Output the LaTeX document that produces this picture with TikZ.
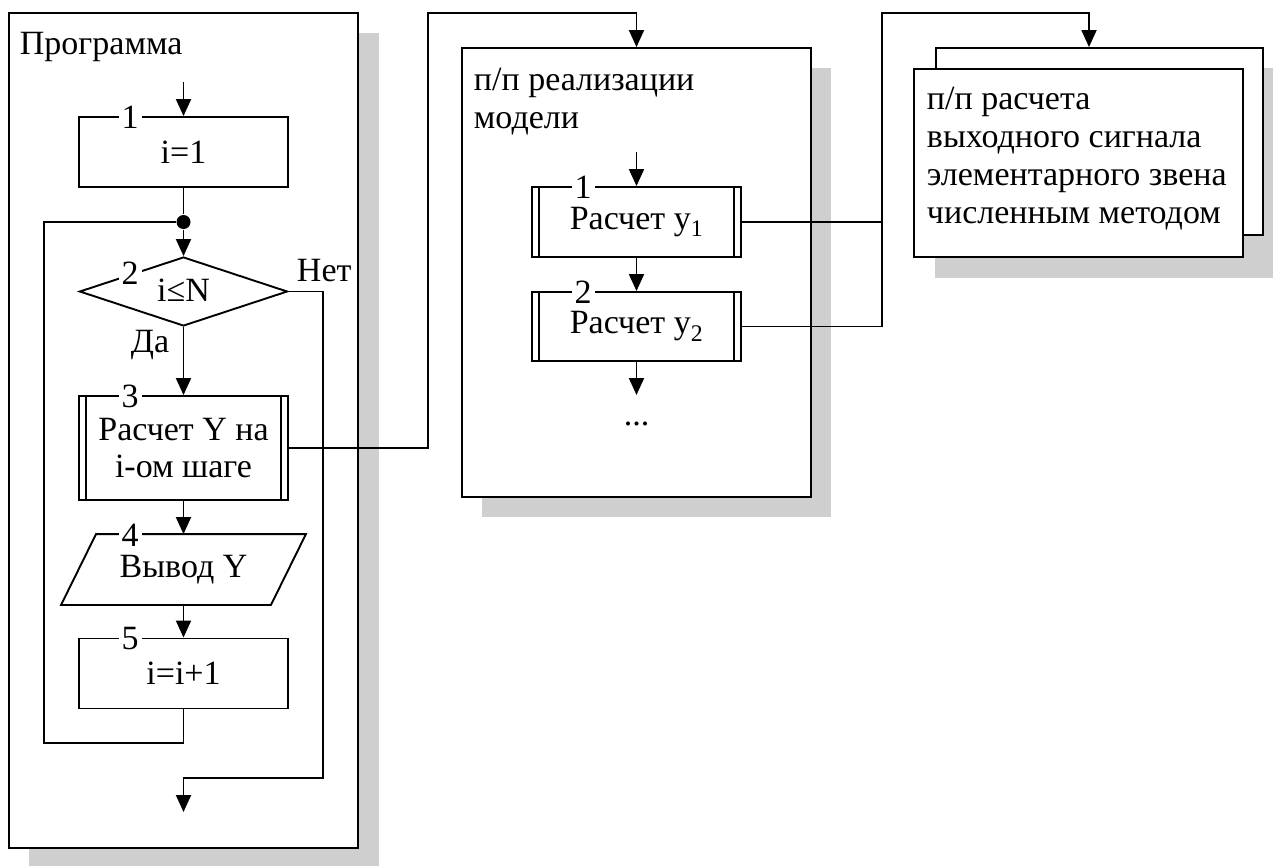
\documentclass[tikz,border=0pt]{standalone}
\usepackage{fontspec}
\setmainfont{Liberation Serif}
\usetikzlibrary{arrows.meta,calc,shapes.geometric}
\definecolor{shadowgray}{RGB}{207,207,207}
\begin{document}
\begin{tikzpicture}[x=1pt,y=-1pt,line width=1.9pt,
  font=\fontsize{34}{37.7}\selectfont,
  proc/.style={draw,fill=white,minimum width=209pt,minimum height=70pt,inner sep=0pt,align=center},
  subproc/.style={proc,path picture={
     \draw ([xshift=7pt]path picture bounding box.north west) -- ([xshift=7pt]path picture bounding box.south west);
     \draw ([xshift=-7pt]path picture bounding box.north east) -- ([xshift=-7pt]path picture bounding box.south east);}},
  cont/.style={draw,fill=white,inner sep=0pt},
  num/.style={fill=white,inner xsep=3pt,inner ysep=0pt},
  txt/.style={inner sep=0pt},
  arr/.style={-{Triangle[length=17pt,width=15pt]}}]
\useasboundingbox (0,0) rectangle (1274,865);
% shadows
\fill[shadowgray] (29,33) rectangle (379,868);
\fill[shadowgray] (482,68) rectangle (831,517);
\fill[shadowgray] (935,68) rectangle (1273,278);
% containers
\node[cont,minimum width=349pt,minimum height=835pt] (prog) at (183.5,430.5) {};
\node[cont,minimum width=349pt,minimum height=449pt] (box2) at (636.5,272.5) {};
\node[cont,minimum width=327pt,minimum height=187pt] (d3b) at (1099.5,141.5) {};
\node[cont,minimum width=329pt,minimum height=188pt] (d3) at (1078.5,163) {};
% container titles (base = baseline of last line)
\node[txt,anchor=base west] (t1) at (19,54) {Программа};
\node[txt,anchor=base west,align=left] (t2) at (473,128) {п/п реализации\\модели};
\node[txt,anchor=base west,align=left] (t3) at (926,223) {п/п расчета\\выходного сигнала\\элементарного звена\\численным методом};
% main program flow
\coordinate (in1) at (183.5,82);
\node[proc] (b1) at (183.5,152) {i=1};
\node[circle,fill,inner sep=0pt,minimum size=14pt] (dot) at (183.5,222) {};
\node[draw,fill=white,diamond,minimum width=208pt,minimum height=69pt,inner sep=0pt] (b2) at (183.5,291.5) {};
\node[txt] (b2t) at (183.5,290) {i≤N};
\node[subproc,minimum height=104pt] (b3) at (183.5,448) {Расчет Y на\\i-ом шаге};
\node[minimum width=208pt,minimum height=69pt,inner sep=0pt] (b4) at (183.5,569.5) {Вывод Y};
\draw ($(b4.north west)+(17.5,0)$) -- ($(b4.north east)+(17.5,0)$) -- ($(b4.south east)+(-17.5,0)$) -- ($(b4.south west)+(-17.5,0)$) -- cycle;
\node[proc] (b5) at (183.5,673.5) {i=i+1};
\node[num] (n1) at (130,117) {1};
\node[num] (n2) at (130,273) {2};
\node[num] (n3) at (130,396) {3};
\node[num] (n4) at (130,535) {4};
\node[num] (n5) at (130,639) {5};
\node[txt,anchor=base west] (yes) at (130,352) {Да};
\node[txt,anchor=base west] (no) at (296,281) {Нет};
\draw[arr] (in1) -- (b1.north);
\draw (b1.south) -- (dot);
\draw[arr] (dot) -- (b2.north);
\draw[arr] (b2.south) -- (b3.north);
\draw[arr] (b3.south) -- (b4.north);
\draw[arr] (b4.south) -- (b5.north);
\coordinate (l1) at (44,743);
\coordinate (l2) at (44,222);
\draw (b5.south) -- (b5.south |- l1) -- (l1) -- (l2) -- (dot);
\coordinate (r1) at (323,778);
\coordinate (exit) at (183.5,812);
\draw[arr] (b2.east) -| (r1) -- (exit |- r1) -- (exit);
% link to model subroutine
\coordinate (c1) at (428,13);
\draw[arr] (b3.east) -| (c1) -| (box2.north);
% model subroutine
\coordinate (in2) at (636.5,152);
\node[subproc] (s1) at (636.5,222) {Расчет y\textsubscript{1}};
\node[subproc,minimum height=69pt] (s2) at (636.5,326.5) {Расчет y\textsubscript{2}};
\node[num] (m1) at (583,187) {1};
\node[num] (m2) at (583,292) {2};
\coordinate (out2) at (636.5,395);
\node[txt] (dots) at (636.5,424) {...};
\draw[arr] (in2) -- (s1.north);
\draw[arr] (s1.south) -- (s2.north);
\draw[arr] (s2.south) -- (out2);
\coordinate (c2) at (882,13);
\draw (s1.east) -- (s1.east -| c2);
\draw[arr] (s2.east) -| (c2) -| ([xshift=-10.5pt]d3b.north);
\end{tikzpicture}
\end{document}
